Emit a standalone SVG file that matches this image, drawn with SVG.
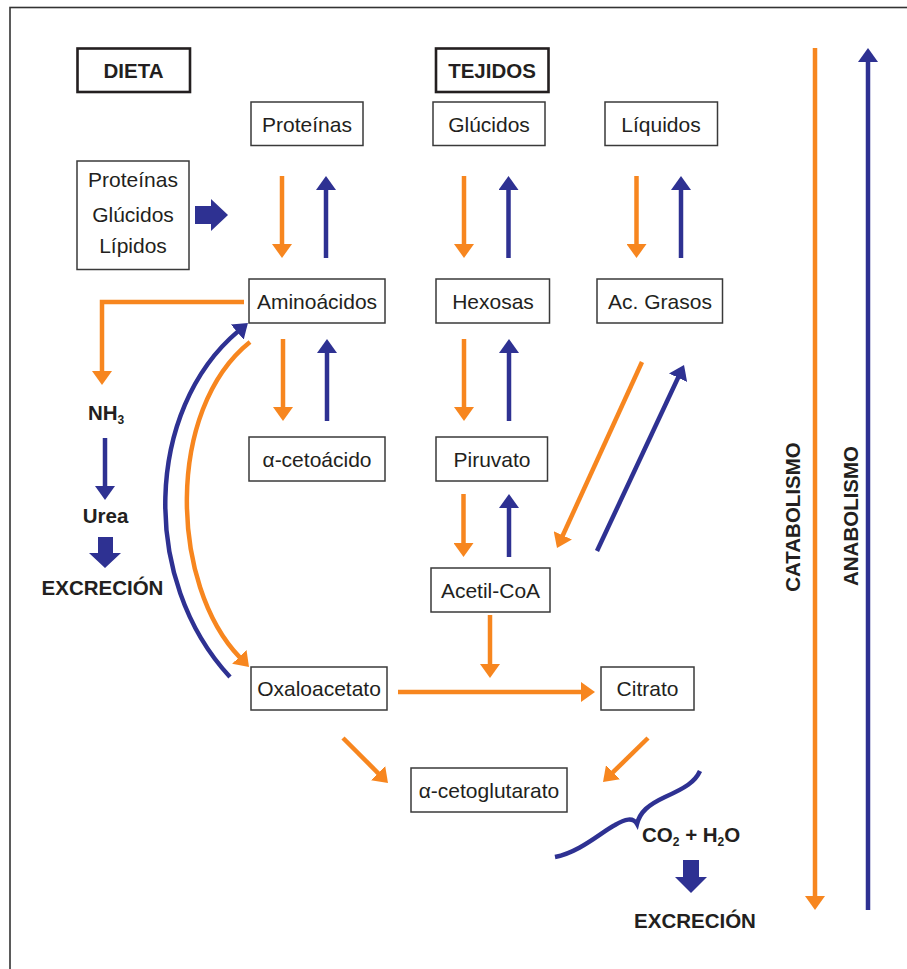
<svg xmlns="http://www.w3.org/2000/svg" width="907" height="969" viewBox="0 0 907 969">
  <style>
    .box { fill: #ffffff; stroke: #3a3a3a; stroke-width: 1.5; }
    .hdr { fill: #ffffff; stroke: #231f20; stroke-width: 2.6; }
    .lbl { font-family: "Liberation Sans", Arial, sans-serif; font-size: 21px; fill: #231f20; text-anchor: middle; }
    .bold { font-family: "Liberation Sans", Arial, sans-serif; font-size: 20.5px; font-weight: bold; fill: #231f20; }
    .mid { text-anchor: middle; }
    .or { fill: none; stroke: #F7861F; stroke-width: 4.5; }
    .bl { fill: none; stroke: #2E3192; stroke-width: 4.5; }
    .or-a { marker-end: url(#headOr); }
    .bl-a { marker-end: url(#headBl); }
    .fat { fill: #2E3192; }
  </style>
  <defs>
    <marker id="headOr" viewBox="0 0 14 20" refX="1" refY="10" markerWidth="14" markerHeight="20" markerUnits="userSpaceOnUse" orient="auto">
      <path d="M0,0 L14,10 L0,20 z" fill="#F7861F"/>
    </marker>
    <marker id="headBl" viewBox="0 0 14 20" refX="1" refY="10" markerWidth="14" markerHeight="20" markerUnits="userSpaceOnUse" orient="auto">
      <path d="M0,0 L14,10 L0,20 z" fill="#2E3192"/>
    </marker>
  </defs>

  <rect width="907" height="969" fill="#ffffff"/>
  <!-- outer frame (right and bottom edges fall outside the page) -->
  <rect x="10" y="7.5" width="1000" height="1000" fill="none" stroke="#333333" stroke-width="1.6"/>

  <!-- headers -->
  <g id="dieta">
    <rect class="hdr" x="77.5" y="48.5" width="112.5" height="43.5"/>
    <text class="bold mid" x="133.5" y="78">DIETA</text>
  </g>
  <g id="tejidos">
    <rect class="hdr" x="436" y="48.5" width="112.5" height="43.5"/>
    <text class="bold mid" x="492" y="78">TEJIDOS</text>
  </g>

  <!-- nodes -->
  <g id="dieta-nutrientes">
    <rect class="box" x="77" y="161" width="112" height="108.5"/>
    <text class="lbl" x="133" y="187">Proteínas</text>
    <text class="lbl" x="133" y="222">Glúcidos</text>
    <text class="lbl" x="133" y="253">Lípidos</text>
  </g>
  <g id="proteinas">
    <rect class="box" x="251" y="102" width="112" height="43.5"/>
    <text class="lbl" x="307" y="131.5">Proteínas</text>
  </g>
  <g id="glucidos">
    <rect class="box" x="433" y="102" width="112" height="43.5"/>
    <text class="lbl" x="489" y="131.5">Glúcidos</text>
  </g>
  <g id="liquidos">
    <rect class="box" x="605" y="102" width="112.5" height="43.5"/>
    <text class="lbl" x="661" y="131.5">Líquidos</text>
  </g>
  <g id="aminoacidos">
    <rect class="box" x="249" y="279" width="136" height="44"/>
    <text class="lbl" x="317" y="308.5">Aminoácidos</text>
  </g>
  <g id="hexosas">
    <rect class="box" x="436" y="279" width="113.5" height="44"/>
    <text class="lbl" x="493" y="308.5">Hexosas</text>
  </g>
  <g id="ac-grasos">
    <rect class="box" x="597" y="279" width="125.5" height="44"/>
    <text class="lbl" x="660" y="308.5">Ac. Grasos</text>
  </g>
  <g id="cetoacido">
    <rect class="box" x="249" y="437" width="136" height="44"/>
    <text class="lbl" x="317" y="466.5">α-cetoácido</text>
  </g>
  <g id="piruvato">
    <rect class="box" x="436" y="437" width="111.5" height="44"/>
    <text class="lbl" x="492" y="466.5">Piruvato</text>
  </g>
  <g id="acetil-coa">
    <rect class="box" x="431" y="568" width="119" height="44"/>
    <text class="lbl" x="490.5" y="597.5">Acetil-CoA</text>
  </g>
  <g id="oxaloacetato">
    <rect class="box" x="251" y="667" width="136" height="43"/>
    <text class="lbl" x="319" y="696">Oxaloacetato</text>
  </g>
  <g id="citrato">
    <rect class="box" x="601" y="667" width="93" height="43"/>
    <text class="lbl" x="647.5" y="696">Citrato</text>
  </g>
  <g id="cetoglutarato">
    <rect class="box" x="411" y="768" width="156" height="44"/>
    <text class="lbl" x="489" y="797.5">α-cetoglutarato</text>
  </g>

  <!-- free labels -->
  <g id="nh3">
    <text class="bold" x="88" y="420">NH<tspan font-size="12" dy="4">3</tspan></text>
  </g>
  <g id="urea">
    <text class="bold mid" x="105.5" y="523">Urea</text>
  </g>
  <g id="excrecion-1">
    <text class="bold mid" x="102.5" y="595">EXCRECIÓN</text>
  </g>
  <g id="co2-h2o">
    <text class="bold" x="642" y="842">CO<tspan font-size="12" dy="4">2</tspan><tspan dy="-4"> + H</tspan><tspan font-size="12" dy="4">2</tspan><tspan dy="-4">O</tspan></text>
  </g>
  <g id="excrecion-2">
    <text class="bold mid" x="695" y="928">EXCRECIÓN</text>
  </g>
  <g id="catabolismo">
    <text class="bold mid" transform="translate(800,517) rotate(-90)" x="0" y="0">CATABOLISMO</text>
  </g>
  <g id="anabolismo">
    <text class="bold mid" transform="translate(858,516) rotate(-90)" x="0" y="0">ANABOLISMO</text>
  </g>

  <!-- connectors -->
  <g id="connectors">
    <!-- dietary intake -->
    <polygon class="fat" points="195,206 211,206 211,199 228,215 211,231 211,224 195,224"/>

    <!-- tissue reserves <-> monomers -->
    <line class="or or-a" x1="282" y1="176" x2="282" y2="245"/>
    <line class="bl bl-a" x1="326" y1="258" x2="326" y2="189"/>
    <line class="or or-a" x1="464" y1="176" x2="464" y2="245"/>
    <line class="bl bl-a" x1="508.5" y1="258" x2="508.5" y2="189"/>
    <line class="or or-a" x1="636.5" y1="176" x2="636.5" y2="245"/>
    <line class="bl bl-a" x1="681" y1="258" x2="681" y2="189"/>

    <!-- monomers <-> intermediates -->
    <line class="or or-a" x1="283" y1="339" x2="283" y2="408"/>
    <line class="bl bl-a" x1="327" y1="421" x2="327" y2="352"/>
    <line class="or or-a" x1="464" y1="339" x2="464" y2="408"/>
    <line class="bl bl-a" x1="509" y1="421" x2="509" y2="352"/>
    <line class="or or-a" x1="463.5" y1="494" x2="463.5" y2="544"/>
    <line class="bl bl-a" x1="509" y1="557" x2="509" y2="507"/>

    <!-- fatty acids <-> acetyl-CoA -->
    <line class="or or-a" x1="642" y1="362" x2="562.4" y2="536.2"/>
    <line class="bl bl-a" x1="597" y1="551" x2="678.5" y2="376.8"/>

    <!-- nitrogen branch -->
    <path class="or or-a" d="M244,302 H102 V372"/>
    <line class="bl bl-a" x1="105" y1="438" x2="105" y2="487"/>
    <polygon class="fat" points="98,537 113,537 113,553 121,553 105,568 89,553 98,553"/>

    <!-- amino acids <-> oxaloacetate -->
    <path class="bl bl-a" d="M230,677 C140,580 145,410 238,331.4"/>
    <path class="or or-a" d="M250,342 C165,410 170,585 240,657.6"/>

    <!-- Krebs cycle entry -->
    <line class="or or-a" x1="490" y1="615" x2="490" y2="665"/>
    <line class="or or-a" x1="398" y1="692" x2="582" y2="692"/>
    <line class="or or-a" x1="343" y1="738" x2="378.8" y2="773.8"/>
    <line class="or or-a" x1="648" y1="738" x2="612.3" y2="772.9"/>

    <!-- brace and final excretion -->
    <path class="bl" stroke-width="5" d="M555,857 C580,852 600,833 615,825 C625,819 633,817 637,824 C640,812 648,805 665,797 C685,788 695,782 700,771"/>
    <polygon class="fat" points="683,860 699,860 699,877 707,877 691,893 675,877 683,877"/>

    <!-- overall direction bars -->
    <line class="or or-a" stroke-width="5" x1="815" y1="48" x2="815" y2="897"/>
    <line class="bl bl-a" stroke-width="5" x1="868" y1="910" x2="868" y2="61"/>
  </g>
</svg>
